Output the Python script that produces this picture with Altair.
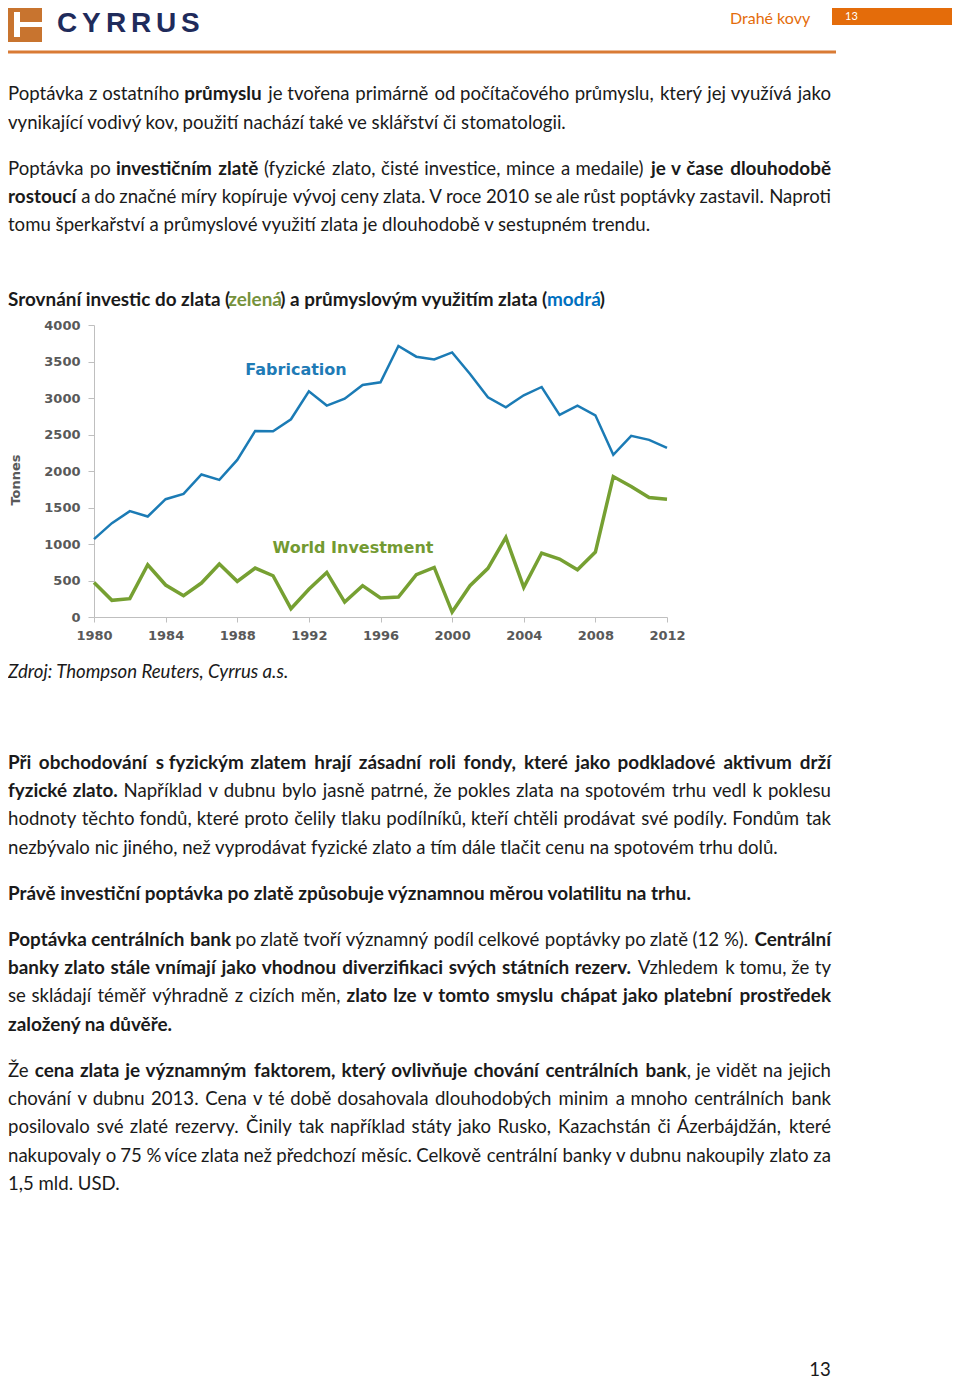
import unicodedata
import altair as alt
import pandas as pd

# ---------------- chart data ----------------
YEARS = list(range(1980, 2013))
FABRICATION = [1067, 1286, 1450, 1377, 1614, 1687, 1952, 1879, 2152, 2549, 2545, 2709, 3092,
               2896, 2991, 3178, 3215, 3712, 3566, 3529, 3625, 3329, 3010, 2873, 3037, 3151,
               2768, 2896, 2763, 2221, 2481, 2426, 2316]
INVESTMENT = [474, 228, 251, 716, 438, 292, 465, 725, 488, 670, 565, 114, 380,
              611, 205, 429, 260, 274, 579, 679, 68, 429, 666, 1090, 406, 876,
              793, 648, 889, 1924, 1788, 1637, 1614]
X_TICKS = [1980, 1984, 1988, 1992, 1996, 2000, 2004, 2008, 2012]
Y_TICKS = [0, 500, 1000, 1500, 2000, 2500, 3000, 3500, 4000]
SERIES_LABELS = ["Fabrication", "World Investment"]
Y_TITLE = "Tonnes"

# ---------------- page text ----------------
HEADER_LETTERS = ["C", "Y", "R", "R", "U", "S"]
HEADER_SECTION = "Drahé kovy"
PAGE_NO = "13"
SOURCE = "Zdroj: Thompson Reuters, Cyrrus a.s."
NB = "\u00a0"

# (centre y, justified?, [(style, text), ...])
TEXT_LINES = [
    (93, True, [("r", "Poptávka z ostatního "), ("b", "průmyslu"),
                ("r", " je tvořena primárně od počítačového průmyslu, který jej využívá jako")]),
    (122, False, [("r", "vynikající vodivý kov, použití nachází také ve sklářství či stomatologii.")]),
    (168, True, [("r", "Poptávka po "), ("b", "investičním zlatě"),
                 ("r", " (fyzické zlato, čisté investice, mince a medaile) "), ("b", "je v čase dlouhodobě")]),
    (196, True, [("b", "rostoucí"),
                 ("r", " a do značné míry kopíruje vývoj ceny zlata. V roce 2010 se ale růst poptávky zastavil. Naproti")]),
    (224, False, [("r", "tomu šperkařství a průmyslové využití zlata je dlouhodobě v sestupném trendu.")]),
    (299, False, [("b", "Srovnání investic do zlata ("), ("bg", "zelená"),
                  ("b", ") a průmyslovým využitím zlata ("), ("bb", "modrá"), ("b", ")")]),
    (671, False, [("i", SOURCE)]),
    (762, True, [("b", "Při obchodování s" + NB + "fyzickým zlatem hrají zásadní roli fondy, které jako podkladové aktivum drží")]),
    (790, True, [("b", "fyzické zlato."),
                 ("r", " Například v dubnu bylo jasně patrné, že pokles zlata na spotovém trhu vedl k poklesu")]),
    (818, True, [("r", "hodnoty těchto fondů, které proto čelily tlaku podílníků, kteří chtěli prodávat své podíly. Fondům tak")]),
    (847, False, [("r", "nezbývalo nic jiného, než vyprodávat fyzické zlato a tím dále tlačit cenu na spotovém trhu dolů.")]),
    (893, False, [("b", "Právě investiční poptávka po zlatě způsobuje významnou měrou volatilitu na trhu.")]),
    (939, True, [("b", "Poptávka centrálních bank"),
                 ("r", " po zlatě tvoří významný podíl celkové poptávky po zlatě (12" + NB + "%). "),
                 ("b", "Centrální")]),
    (967, True, [("b", "banky zlato stále vnímají jako vhodnou diverzifikaci svých státních rezerv."),
                 ("r", " Vzhledem k" + NB + "tomu, že ty")]),
    (995, True, [("r", "se skládají téměř výhradně z cizích měn, "),
                 ("b", "zlato lze v tomto smyslu chápat jako platební prostředek")]),
    (1024, False, [("b", "založený na důvěře.")]),
    (1070, True, [("r", "Že "),
                  ("b", "cena zlata je významným faktorem, který ovlivňuje chování centrálních bank"),
                  ("r", ", je vidět na jejich")]),
    (1098, True, [("r", "chování v dubnu 2013. Cena v té době dosahovala dlouhodobých minim a mnoho centrálních bank")]),
    (1126, True, [("r", "posilovalo své zlaté rezervy. Činily tak například státy jako Rusko, Kazachstán či Ázerbájdžán, které")]),
    (1155, True, [("r", "nakupovaly o 75" + NB + "% více zlata než předchozí měsíc. Celkově centrální banky v dubnu nakoupily zlato za")]),
    (1183, False, [("r", "1,5 mld. USD.")]),
]

# ---------------- styling ----------------
BODY_FONT = "Lato, 'Open Sans', sans-serif"
REG_SIZE = 18.6
BOLD_SIZE = 18.9
AXIS_FONT = "'DejaVu Sans', Verdana, sans-serif"
INK = "#1a1a1a"
BLUE_LINE = "#1b7bb5"
GREEN_LINE = "#76a032"
AXIS_GREY = "#595959"
ORANGE = "#e46c0a"
STYLES = {
    "r": dict(weight="normal", style="normal", color=INK, size=REG_SIZE),
    "b": dict(weight="bold", style="normal", color=INK, size=BOLD_SIZE),
    "i": dict(weight="normal", style="italic", color=INK, size=REG_SIZE),
    "bg": dict(weight="bold", style="normal", color="#76923c", size=BOLD_SIZE),
    "bb": dict(weight="bold", style="normal", color="#0070c0", size=BOLD_SIZE),
}

# approximate Lato advance widths (em) used only to lay out text runs
EM = dict(a=.48, b=.55, c=.46, d=.55, e=.51, f=.32, g=.50, h=.55, i=.24, j=.24, k=.50, l=.24,
          m=.83, n=.55, o=.55, p=.54, q=.55, r=.37, s=.42, t=.35, u=.55, v=.50, w=.76, x=.49,
          y=.50, z=.45, A=.66, B=.63, C=.66, D=.73, E=.56, F=.54, G=.71, H=.75, I=.29, J=.39,
          K=.66, L=.50, M=.91, N=.75, O=.78, P=.59, Q=.78, R=.61, S=.52, T=.57, U=.71, V=.66,
          W=.99, X=.63, Y=.61, Z=.60)
EM.update({c: .58 for c in "0123456789"})
EM.update({",": .21, ".": .21, "(": .30, ")": .30, "%": .75, ":": .22, "-": .33,
           " ": .193, NB: .193, "ť": .42, "ď": .62, "ľ": .33})
CAL = 1.031
BOLD_FACTOR = 1.02
RUN_PAD = -2.4  # correction between directly adjoining runs

L, R = 8, 831
OX, OY = 94, 325
W, H = 573, 292
TOTAL_W, TOTAL_H = 944, 1372
BASE_DY = 7

ONE = pd.DataFrame({"k": [0]})


def char_em(ch):
    if ch in EM:
        return EM[ch]
    base = unicodedata.normalize("NFD", ch)[0]
    return EM.get(base, 0.55)


def est_width(text, st):
    bold = st in ("b", "bg", "bb")
    w = sum(char_em(c) for c in text) * STYLES[st]["size"] * CAL
    return w * (BOLD_FACTOR if bold else 1.0)


def text_layer(px, py, s, align="left", baseline="alphabetic", font=BODY_FONT, size=REG_SIZE,
               weight="normal", style="normal", color=INK, angle=0):
    return alt.Chart(ONE).mark_text(
        align=align, baseline=baseline, font=font, fontSize=size,
        fontWeight=weight, fontStyle=style, color=color, angle=angle
    ).encode(x=alt.value(px - OX), y=alt.value(py - OY), text=alt.value(s))


def run_layer(px, py, st, s, align="left"):
    sty = STYLES[st]
    return text_layer(px, py, s, align=align, size=sty["size"], weight=sty["weight"],
                      style=sty["style"], color=sty["color"])


def rect_layer(x1, y1, x2, y2, color):
    return alt.Chart(ONE).mark_rect(color=color).encode(
        x=alt.value(x1 - OX), x2=alt.value(x2 - OX),
        y=alt.value(y1 - OY), y2=alt.value(y2 - OY))


def tokenize(runs):
    tokens, cur = [], []
    for st, text in runs:
        parts = text.split(" ")
        for i, p in enumerate(parts):
            if i > 0 and cur:
                tokens.append(cur)
                cur = []
            if p:
                cur.append((st, p))
    if cur:
        tokens.append(cur)
    return tokens


def line_layers(cy, justified, runs):
    y = cy + BASE_DY
    out = []
    if not justified:
        x = L
        for st, s in runs:
            out.append(run_layer(x, y, st, s))
            x += est_width(s, st) + RUN_PAD
        return out
    tokens = tokenize(runs)
    widths = [sum(est_width(s, st) for st, s in tok) for tok in tokens]
    gap = (R - L - sum(widths)) / (len(tokens) - 1)
    x = L
    for k, tok in enumerate(tokens):
        if k == len(tokens) - 1 and len(tok) == 1:
            out.append(run_layer(R, y, tok[0][0], tok[0][1], align="right"))
        else:
            xx = x
            for st, s in tok:
                out.append(run_layer(xx, y, st, s))
                xx += est_width(s, st)
        x += widths[k] + gap
    return out


layers = []

# header
layers.append(rect_layer(8, 5, 42, 42, "#c8742f"))
layers.append(rect_layer(14, 12, 20, 37, "white"))
layers.append(rect_layer(20, 22, 42, 27, "white"))
letter_x = [57, 82, 106, 131, 156, 181]
for lx, ch in zip(letter_x, HEADER_LETTERS):
    layers.append(text_layer(lx, 32, ch, font="'Liberation Sans', sans-serif",
                             size=28, weight="bold", color="#1f2b5b"))
layers.append(text_layer(730, 24, HEADER_SECTION, size=16, color=ORANGE))
layers.append(rect_layer(832, 7, 952, 25, ORANGE))
layers.append(text_layer(845, 20, PAGE_NO, size=11, color="white"))
layers.append(alt.Chart(ONE).mark_rule(color="#d97b35", strokeWidth=3).encode(
    x=alt.value(8 - OX), x2=alt.value(836 - OX), y=alt.value(52 - OY)))

# body text
for cy, just, runs in TEXT_LINES:
    layers += line_layers(cy, just, runs)

layers.append(text_layer(820, 1376, PAGE_NO, align="center"))

# line chart
df = pd.DataFrame({
    "Year": YEARS * 2,
    "Tonnes": FABRICATION + INVESTMENT,
    "Series": [SERIES_LABELS[0]] * len(YEARS) + [SERIES_LABELS[1]] * len(YEARS),
})
axis_common = dict(grid=False, title=None, labelFont=AXIS_FONT, labelFontSize=13,
                   labelFontWeight="bold", labelColor=AXIS_GREY, domainColor="#bfbfbf",
                   tickColor="#bfbfbf", labelFlush=False, format="d")
x_enc = alt.X("Year:Q", scale=alt.Scale(domain=[1980, 2012], nice=False, zero=False),
              axis=alt.Axis(values=X_TICKS, tickSize=5, labelPadding=7, **axis_common))
y_enc = alt.Y("Tonnes:Q", scale=alt.Scale(domain=[0, 4000], nice=False),
              axis=alt.Axis(values=Y_TICKS, tickSize=6, labelPadding=8, **axis_common))

fab = alt.Chart(df).transform_filter(alt.datum.Series == SERIES_LABELS[0]).mark_line(
    color=BLUE_LINE, strokeWidth=2.5).encode(x=x_enc, y=y_enc)
inv = alt.Chart(df).transform_filter(alt.datum.Series == SERIES_LABELS[1]).mark_line(
    color=GREEN_LINE, strokeWidth=3.5).encode(x=x_enc, y=y_enc)
layers += [fab, inv]

layers.append(text_layer(296, 370, SERIES_LABELS[0], align="center", baseline="middle",
                         font=AXIS_FONT, size=16, weight="bold", color="#1f7bb6"))
layers.append(text_layer(353, 548, SERIES_LABELS[1], align="center", baseline="middle",
                         font=AXIS_FONT, size=16, weight="bold", color="#739a32"))
layers.append(text_layer(16, 480, Y_TITLE, align="center", baseline="middle",
                         font=AXIS_FONT, size=13, weight="bold", color=AXIS_GREY, angle=270))

chart = alt.layer(*layers).properties(
    width=W, height=H,
    autosize=alt.AutoSizeParams(type="none"),
    padding={"left": OX - 8, "top": OY - 8, "right": TOTAL_W - (OX - 8) - W,
             "bottom": TOTAL_H - (OY - 8) - H},
    background="white",
).configure_view(stroke=None)

chart.save("out.html", embed_options={"renderer": "svg", "actions": False})
